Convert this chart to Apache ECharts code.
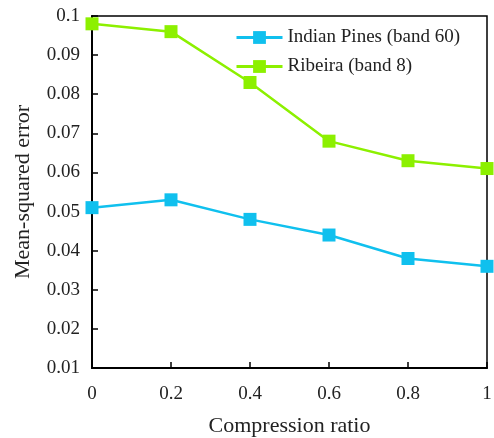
<!DOCTYPE html>
<html>
<head>
<meta charset="utf-8">
<script src="https://cdn.jsdelivr.net/npm/echarts@6/dist/echarts.min.js"></script>
<style>
html,body{margin:0;padding:0;background:#fff;}
#chart{width:494px;height:438px;}
</style>
</head>
<body>
<div id="chart"></div>
<script>
var ratios = [0, 0.2, 0.4, 0.6, 0.8, 1];
var indianPines = [0.051, 0.053, 0.048, 0.044, 0.038, 0.036];
var ribeira = [0.098, 0.096, 0.083, 0.068, 0.063, 0.061];
var seriesNames = ['Indian Pines (band 60)', 'Ribeira (band 8)'];

function pairs(xs, ys) {
    var out = [];
    for (var i = 0; i < xs.length; i++) out.push([xs[i], ys[i]]);
    return out;
}

var font = 'Liberation Serif';
var myChart = echarts.init(document.getElementById('chart'));
var option = {
    animation: false,
    textStyle: { fontFamily: font, color: '#222' },
    grid: {
        left: 92, right: 7, top: 16, bottom: 70,
        containLabel: false, outerBoundsMode: 'none',
        show: true, borderColor: '#000', borderWidth: 1.5
    },
    legend: {
        orient: 'vertical',
        left: 235, top: 28,
        padding: 0,
        itemWidth: 46, itemHeight: 16, itemGap: 10,
        lineStyle: { width: 3 },
        textStyle: { fontFamily: font, fontSize: 19, color: '#222' },
        data: seriesNames
    },
    xAxis: {
        type: 'value',
        min: 0, max: 1, interval: 0.2,
        name: 'Compression ratio',
        nameLocation: 'middle',
        nameGap: 47,
        nameTextStyle: { fontFamily: font, fontSize: 22, color: '#222' },
        axisLine: { lineStyle: { color: '#000', width: 2 } },
        axisTick: { inside: true, length: 6, lineStyle: { color: '#000', width: 1.5 } },
        axisLabel: {
            margin: 17, fontSize: 19, color: '#222', fontFamily: font,
            formatter: function (v) { return String(Number(v.toFixed(1))); }
        },
        splitLine: { show: false }
    },
    yAxis: {
        type: 'value',
        min: 0.01, max: 0.1, interval: 0.01,
        name: 'Mean-squared error',
        nameLocation: 'middle',
        nameGap: 58,
        nameTextStyle: { fontFamily: font, fontSize: 22, color: '#222' },
        axisLine: { show: true, lineStyle: { color: '#000', width: 2 } },
        axisTick: { show: true, inside: true, length: 6, lineStyle: { color: '#000', width: 1.5 } },
        axisLabel: {
            margin: 12, fontSize: 19, color: '#222', fontFamily: font,
            formatter: function (v) { return String(Number(v.toFixed(2))); }
        },
        splitLine: { show: false }
    },
    series: [{
        name: seriesNames[0],
        type: 'line',
        data: pairs(ratios, indianPines),
        symbol: 'rect',
        symbolSize: 13,
        color: '#10c0ee',
        lineStyle: { width: 2.5, color: '#10c0ee' },
        itemStyle: { color: '#10c0ee' }
    }, {
        name: seriesNames[1],
        type: 'line',
        data: pairs(ratios, ribeira),
        symbol: 'rect',
        symbolSize: 13,
        color: '#8cf000',
        lineStyle: { width: 2.5, color: '#8cf000' },
        itemStyle: { color: '#8cf000' }
    }]
};
myChart.setOption(option);
</script>
</body>
</html>
